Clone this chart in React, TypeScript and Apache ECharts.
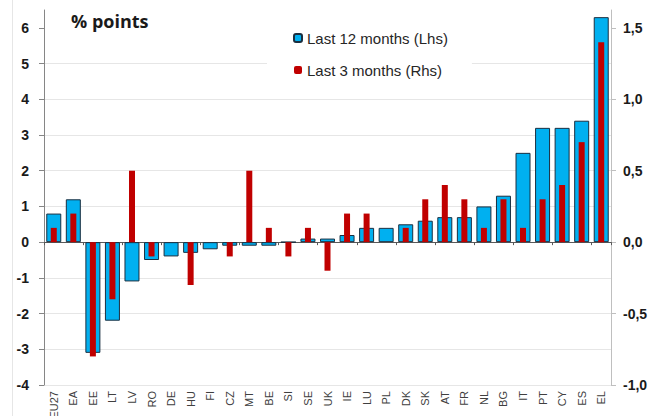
import React, { useEffect, useRef } from "react";
import * as echarts from "echarts";

const categories = ["EU27", "EA", "EE", "LT", "LV", "RO", "DE", "HU", "FI", "CZ", "MT", "BE", "SI", "SE", "UK", "IE", "LU", "PL", "DK", "SK", "AT", "FR", "NL", "BG", "IT", "PT", "CY", "ES", "EL"];
const last12Months = [0.8, 1.2, -3.1, -2.2, -1.1, -0.5, -0.4, -0.3, -0.2, -0.1, -0.1, -0.1, 0, 0.1, 0.1, 0.2, 0.4, 0.4, 0.5, 0.6, 0.7, 0.7, 1.0, 1.3, 2.5, 3.2, 3.2, 3.4, 6.3];
const last3Months = [0.1, 0.2, -0.8, -0.4, 0.5, -0.1, 0, -0.3, 0, -0.1, 0.5, 0.1, -0.1, 0.1, -0.2, 0.2, 0.2, 0, 0.1, 0.3, 0.4, 0.3, 0.1, 0.3, 0.1, 0.3, 0.4, 0.7, 1.4];
const leftTicks = [-4, -3, -2, -1, 0, 1, 2, 3, 4, 5, 6];
const rightTicks = [-1, -0.5, 0, 0.5, 1, 1.5];
const titleText = "% points";
const seriesNames = ["Last 12 months (Lhs)", "Last 3 months (Rhs)"];

const FONT = "'Liberation Sans', Arial, sans-serif";

export default function App() {
  const ref = useRef<HTMLDivElement>(null);
  useEffect(() => {
    if (!ref.current) return;
    const chart = echarts.init(ref.current, null, { renderer: "svg" });
    chart.setOption({
      animation: false,
      backgroundColor: "#ffffff",
      title: {
        text: titleText,
        left: 71,
        top: 12,
        padding: 0,
        textStyle: { fontFamily: "'Open Sans', sans-serif", fontWeight: 700, fontSize: 18, color: "#1a1a1a" },
      },
      graphic: [
        { type: "line", shape: { x1: 12.5, y1: 0, x2: 12.5, y2: 416 }, style: { stroke: "#e6e6e6", lineWidth: 1 } },
      ],
      legend: {
        orient: "vertical",
        left: 267,
        top: 13,
        padding: [16, 24, 14, 26],
        backgroundColor: "#ffffff",
        itemWidth: 8,
        itemHeight: 8,
        itemGap: 14,
        textStyle: { fontFamily: FONT, fontSize: 15, color: "#262626", lineHeight: 18 },
        data: seriesNames,
      },
      grid: { left: 44, right: 46, top: 10, bottom: 31, containLabel: false, outerBoundsMode: "none" },
      xAxis: [
        {
          type: "category",
          data: categories,
          position: "bottom",
          axisLine: { show: false, onZero: false },
          axisTick: { show: false },
          axisLabel: { interval: 0, rotate: 90, fontFamily: FONT, fontSize: 11, color: "#404040", margin: 6 },
        },
        {
          type: "category",
          data: categories,
          position: "bottom",
          axisLine: { show: true, onZero: true, onZeroAxisIndex: 0, lineStyle: { color: "#595959", width: 1 } },
          axisTick: { show: true, length: 3, lineStyle: { color: "#595959" } },
          axisLabel: { show: false },
        },
      ],
      yAxis: [
        {
          type: "value",
          position: "left",
          min: -4,
          max: 6.5,
          interval: 1,
          axisLine: { show: true, lineStyle: { color: "#868686" } },
          axisTick: { show: true, length: 5, customValues: leftTicks, lineStyle: { color: "#868686" } },
          axisLabel: {
            customValues: leftTicks,
            margin: 15,
            fontFamily: FONT,
            fontSize: 14,
            fontWeight: "bold",
            color: "#1a1a1a",
            formatter: (v: number) => (v > 6 ? "" : String(v)),
          },
          splitLine: { show: true, showMaxLine: false, lineStyle: { color: "#e6e6e6", width: 1 } },
        },
        {
          type: "value",
          position: "right",
          min: -1,
          max: 1.625,
          interval: 0.5,
          axisLine: { show: true, lineStyle: { color: "#bfbfbf" } },
          axisTick: { show: true, length: 5, customValues: rightTicks, lineStyle: { color: "#bfbfbf" } },
          axisLabel: {
            customValues: rightTicks,
            margin: 12,
            fontFamily: FONT,
            fontSize: 14,
            fontWeight: "bold",
            color: "#1a1a1a",
            formatter: (v: number) => (v > 1.5 ? "" : v.toFixed(1).replace(".", ",")),
          },
          splitLine: { show: false },
        },
      ],
      series: [
        {
          name: seriesNames[0],
          type: "bar",
          xAxisIndex: 0,
          yAxisIndex: 0,
          data: last12Months,
          barWidth: 15,
          itemStyle: { color: "#00b0f0", borderColor: "#1a2f40", borderWidth: 1 },
        },
        {
          name: seriesNames[1],
          type: "bar",
          xAxisIndex: 1,
          yAxisIndex: 1,
          data: last3Months,
          barWidth: 6,
          itemStyle: { color: "#c00000" },
        },
      ],
    });
    return () => chart.dispose();
  }, []);
  return <div ref={ref} style={{ position: "fixed", left: 0, top: 0, width: 657, height: 416 }} />;
}
